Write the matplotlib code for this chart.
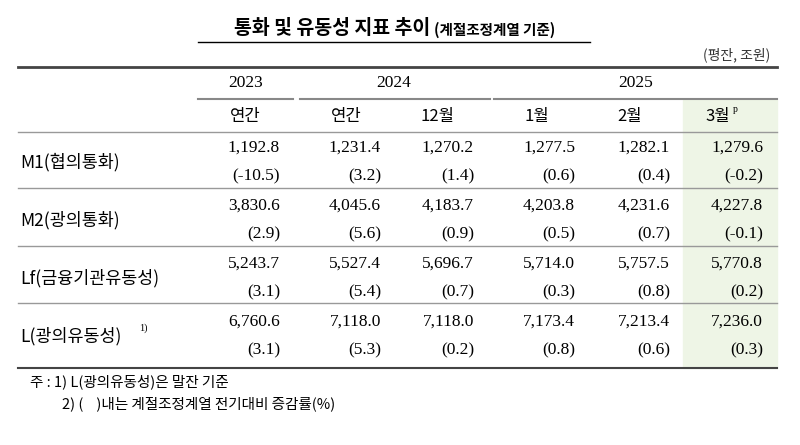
import matplotlib.pyplot as plt
from matplotlib.patches import Rectangle

# 표 데이터
지표 = ['M1(협의통화)', 'M2(광의통화)', 'Lf(금융기관유동성)', 'L(광의유동성)']
값 = [
    ['1,192.8', '1,231.4', '1,270.2', '1,277.5', '1,282.1', '1,279.6'],
    ['3,830.6', '4,045.6', '4,183.7', '4,203.8', '4,231.6', '4,227.8'],
    ['5,243.7', '5,527.4', '5,696.7', '5,714.0', '5,757.5', '5,770.8'],
    ['6,760.6', '7,118.0', '7,118.0', '7,173.4', '7,213.4', '7,236.0'],
]
증감률 = [
    ['(-10.5)', '(3.2)', '(1.4)', '(0.6)', '(0.4)', '(-0.2)'],
    ['(2.9)', '(5.6)', '(0.9)', '(0.5)', '(0.7)', '(-0.1)'],
    ['(3.1)', '(5.4)', '(0.7)', '(0.3)', '(0.8)', '(0.2)'],
    ['(3.1)', '(5.3)', '(0.2)', '(0.8)', '(0.6)', '(0.3)'],
]
연도 = ['2023', '2024', '2025']
기간 = ['연간', '연간', '12월', '1월', '2월', '3월']

KR = ['Noto Sans CJK KR', 'Noto Sans CJK JP', 'Noto Sans CJK SC', 'DejaVu Sans']
SERIF = 'Liberation Serif'

fig = plt.figure(figsize=(8, 4.45), dpi=100)
ax = fig.add_axes([0, 0, 1, 1])
ax.set_xlim(0, 800)
ax.set_ylim(445, 0)
ax.axis('off')

# 3월 강조 배경
ax.add_patch(Rectangle((683, 100), 94, 268, color='#eef5e6', zorder=0))

ax.text(430, 28, '통화 및 유동성 지표 추이', fontfamily=KR, fontsize=14,
        fontweight='bold', ha='right', va='center')
ax.text(434, 30, '(계절조정계열 기준)', fontfamily=KR, fontsize=10.5,
        fontweight='bold', ha='left', va='center')
ax.plot([198, 590], [42, 42], color='black', lw=1)
ax.text(770, 55, '(평잔, 조원)', fontfamily=KR, fontsize=10, ha='right', va='center', color='#333')

ax.plot([18, 777], [67, 67], color='#444', lw=2)
ax.plot([198, 293], [99, 99], color='#888', lw=1.5)
ax.plot([300, 490], [99, 99], color='#888', lw=1.5)
ax.plot([494, 777], [99, 99], color='#888', lw=1.5)
for y in [132, 188, 246, 303]:
    ax.plot([18, 777], [y, y], color='#999', lw=1)
ax.plot([18, 777], [368, 368], color='#444', lw=1.5)

for x, t in zip([246, 394, 636], 연도):
    ax.text(x, 83, t, fontfamily=SERIF, fontsize=12.5, ha='center', va='center')
for x, t in zip([245, 346, 438, 537, 630, 718], 기간):
    ax.text(x, 116, t, fontfamily=KR, fontsize=12, ha='center', va='center')
ax.text(733, 110, 'p', fontfamily=SERIF, fontsize=7, ha='left', va='center')

col_r = [280, 381, 474, 575, 670, 763]
row_top = [148, 206, 264, 322]
for i, name in enumerate(지표):
    y = row_top[i]
    ax.text(20, y + 14, name, fontfamily=KR, fontsize=12.5, ha='left', va='center')
    for j, x in enumerate(col_r):
        ax.text(x, y, 값[i][j], fontfamily=SERIF, fontsize=12.5, ha='right', va='center')
        ax.text(x, y + 28, 증감률[i][j], fontfamily=SERIF, fontsize=12.5, ha='right', va='center')
ax.text(139, 328, '1)', fontfamily=SERIF, fontsize=7.5, ha='left', va='center')

ax.text(30, 382, '주 : 1) L(광의유동성)은 말잔 기준', fontfamily=KR, fontsize=10.5, ha='left', va='center')
ax.text(62, 404, '2) (    )내는 계절조정계열 전기대비 증감률(%)', fontfamily=KR, fontsize=10.5, ha='left', va='center')

fig.savefig('out.png', dpi=100)
